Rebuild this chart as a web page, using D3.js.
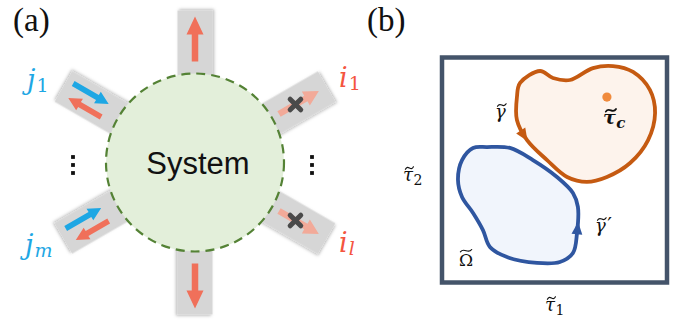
<!DOCTYPE html>
<html>
<head>
<meta charset="utf-8">
<script src="https://cdn.jsdelivr.net/npm/d3@7/dist/d3.min.js"></script>
<style>
  html, body { margin: 0; padding: 0; background: #ffffff; }
  svg { display: block; }
</style>
</head>
<body>
<svg id="fig" width="686" height="324"></svg>
<script>
// ---------- Panel (a): a system with ports on its boundary ----------
const portAngles = [90, 150, 210, -90, 30, -30];          // degrees, counter-clockwise from +x
const portKinds  = ["out", "exchange", "exchange", "out", "blocked", "blocked"];
const portNames  = ["", "j", "j", "", "i", "i"];
const portSubs   = ["", "1", "m", "", "1", "l"];
const systemLabel = "System";

// ---------- Panel (b): closed contours in the (τ̃1, τ̃2) plane ----------
const gammaU = [0.347, 0.436, 0.493, 0.569, 0.671, 0.760, 0.849, 0.924, 0.947, 0.916,
                0.836, 0.733, 0.644, 0.556, 0.467, 0.378, 0.333, 0.333];
const gammaV = [0.887, 0.940, 0.909, 0.900, 0.953, 0.962, 0.936, 0.856, 0.753, 0.633,
                0.531, 0.469, 0.447, 0.469, 0.544, 0.633, 0.722, 0.824];
const gammaPrimeU = [0.200, 0.302, 0.404, 0.511, 0.582, 0.604, 0.600, 0.582, 0.524, 0.422,
                     0.289, 0.213, 0.182, 0.138, 0.089, 0.071, 0.089, 0.138];
const gammaPrimeV = [0.602, 0.598, 0.544, 0.469, 0.398, 0.336, 0.220, 0.131, 0.091, 0.087,
                     0.113, 0.158, 0.233, 0.309, 0.380, 0.456, 0.544, 0.598];
const tauC = [0.733, 0.824];
const gammaArrowAt = [0.356, 0.647];
const gammaPrimeArrowAt = [0.600, 0.242];

const svg = d3.select("#fig");
const defs = svg.append("defs");
const shadow = defs.append("filter").attr("id", "shadow")
  .attr("x", "-20%").attr("y", "-20%").attr("width", "140%").attr("height", "140%");
shadow.append("feDropShadow").attr("dx", 1.2).attr("dy", 1.5)
  .attr("stdDeviation", 1.4).attr("flood-color", "#000").attr("flood-opacity", 0.28);

const serif = "'Liberation Serif', 'Times New Roman', serif";
const mathFont = "'DejaVu Serif', serif";
const sans = "'Liberation Sans', Arial, sans-serif";

// ---- panel labels ----
svg.append("text").attr("x", 13).attr("y", 31).text("(a)")
  .style("font-family", serif).style("font-size", "33px").attr("fill", "#111");
svg.append("text").attr("x", 367).attr("y", 31).text("(b)")
  .style("font-family", serif).style("font-size", "33px").attr("fill", "#111");

// ================= Panel (a) =================
const cx = 195, cy = 162.5, R = 89;
const ga = svg.append("g");

// arrow polygon pointing along +x (or -x) in a local frame
function arrowPoly(tail, tip, y, shaft, headLen, headW) {
  const s = Math.sign(tip - tail);
  const hb = tip - s * headLen;
  return [
    [tail, y - shaft / 2], [hb, y - shaft / 2], [hb, y - headW / 2], [tip, y],
    [hb, y + headW / 2], [hb, y + shaft / 2], [tail, y + shaft / 2]
  ];
}
const poly = d3.line();

const ports = portAngles.map((a, i) => ({
  angle: a, kind: portKinds[i], name: portNames[i], sub: portSubs[i]
}));

const pg = ga.selectAll("g.port").data(ports).join("g")
  .attr("class", "port")
  .attr("transform", d => `translate(${cx},${cy}) rotate(${-d.angle})`);

pg.append("rect")
  .attr("x", 78).attr("y", -17.5).attr("width", 74).attr("height", 35)
  .attr("fill", "#d6d6d6").attr("filter", "url(#shadow)");

// outgoing channel
pg.filter(d => d.kind === "out").append("path")
  .attr("d", poly(arrowPoly(101, 146, 0, 6.5, 18, 17)) + "Z")
  .attr("fill", "#f0705a");

// two-way channel: incoming (blue) and outgoing (red)
const ex = pg.filter(d => d.kind === "exchange");
ex.append("path")
  .attr("d", poly(arrowPoly(145, 104, 7.5, 5.5, 13, 13.5)) + "Z")
  .attr("fill", "#1ea7e4");
ex.append("path")
  .attr("d", poly(arrowPoly(104, 142, -7.5, 5.5, 13, 13.5)) + "Z")
  .attr("fill", "#f0705a");

// blocked channel: faded arrow crossed out
const bl = pg.filter(d => d.kind === "blocked");
bl.append("path")
  .attr("d", poly(arrowPoly(97, 143, 0, 6.5, 15, 16)) + "Z")
  .attr("fill", "#f2aa99");
bl.append("g")
  .attr("transform", d => `translate(116,0) rotate(${d.angle})`)
  .selectAll("line").data([45, -45]).join("line")
  .attr("x1", a => -7.5 * Math.cos(a * Math.PI / 180))
  .attr("y1", a => -7.5 * Math.sin(a * Math.PI / 180))
  .attr("x2", a => 7.5 * Math.cos(a * Math.PI / 180))
  .attr("y2", a => 7.5 * Math.sin(a * Math.PI / 180))
  .attr("stroke", "#4a4a4a").attr("stroke-width", 5).attr("stroke-linecap", "round");

// the system itself
ga.append("circle").attr("cx", cx).attr("cy", cy).attr("r", R)
  .attr("fill", "#e3efda").attr("stroke", "#548235")
  .attr("stroke-width", 2.2).attr("stroke-dasharray", "9,6");
ga.append("text").attr("x", cx + 3).attr("y", 173.5).attr("text-anchor", "middle")
  .text(systemLabel).style("font-family", sans).style("font-size", "31px").attr("fill", "#111");

// ellipsis markers between the port groups
[73, 312].forEach(px => {
  ga.selectAll(null).data([157, 165, 173]).join("rect")
    .attr("x", px - 1.9).attr("y", d => d - 1.9).attr("width", 3.8).attr("height", 3.8)
    .attr("fill", "#111");
});

// port labels
const labelPos = { "j1": [27, 89], "jm": [25, 254], "i1": [339, 87], "il": [339, 252] };
const labelColor = { j: "#1ea7e4", i: "#f4553f" };
ports.filter(d => d.name).forEach(d => {
  const [lx, ly] = labelPos[d.name + d.sub];
  const t = ga.append("text").attr("x", lx).attr("y", ly)
    .attr("fill", labelColor[d.name]).style("font-family", mathFont);
  t.append("tspan").text(d.name).style("font-style", "italic").style("font-size", "27px");
  t.append("tspan").text(d.sub).attr("dx", 1).attr("dy", 3)
    .style("font-style", d.sub === "1" ? "normal" : "italic")
    .style("font-size", "19px");
});

// ================= Panel (b) =================
const x = d3.scaleLinear().domain([0, 1]).range([442, 667]);
const y = d3.scaleLinear().domain([0, 1]).range([282.5, 57.5]);
const gb = svg.append("g");

gb.append("rect")
  .attr("x", x(0)).attr("y", y(1)).attr("width", x(1) - x(0)).attr("height", y(0) - y(1))
  .attr("fill", "#ffffff").attr("stroke", "#44546a").attr("stroke-width", 4.5);

const closed = d3.line().x(d => x(d[0])).y(d => y(d[1]))
  .curve(d3.curveCatmullRomClosed.alpha(0.5));

function contour(us, vs, stroke, fill, arrowAt) {
  const pts = us.map((u, i) => [u, vs[i]]);
  const p = gb.append("path").attr("d", closed(pts))
    .attr("fill", fill).attr("stroke", stroke).attr("stroke-width", 3.8)
    .attr("stroke-linejoin", "round");
  // arrowhead placed on the curve nearest to arrowAt, pointing against point order
  const node = p.node(), L = node.getTotalLength();
  const tx = x(arrowAt[0]), ty = y(arrowAt[1]);
  let best = 0, bestD = Infinity;
  for (let l = 0; l < L; l += 0.5) {
    const q = node.getPointAtLength(l);
    const dd = (q.x - tx) ** 2 + (q.y - ty) ** 2;
    if (dd < bestD) { bestD = dd; best = l; }
  }
  const a = node.getPointAtLength((best + 2) % L), b = node.getPointAtLength((best - 2 + L) % L);
  const ang = Math.atan2(b.y - a.y, b.x - a.x) * 180 / Math.PI;
  const c = node.getPointAtLength(best);
  gb.append("path")
    .attr("d", "M6.5,0 L-6,-5.4 L-6,5.4 Z")
    .attr("transform", `translate(${c.x},${c.y}) rotate(${ang})`)
    .attr("fill", stroke);
}
contour(gammaU, gammaV, "#c55a11", "#fdf3ec", gammaArrowAt);
contour(gammaPrimeU, gammaPrimeV, "#2f56a0", "#f1f5fc", gammaPrimeArrowAt);

gb.append("circle").attr("cx", x(tauC[0])).attr("cy", y(tauC[1])).attr("r", 4.6)
  .attr("fill", "#f08a3c");

// math labels: base glyph with a drawn tilde accent, optional prime and subscript
function mathLabel(px, py, glyph, sub, opts = {}) {
  const size = opts.size || 18;
  const g = gb.append("g");
  const t = g.append("text").attr("x", px).attr("y", py).attr("fill", "#111")
    .style("font-family", mathFont).style("font-size", size + "px");
  if (opts.bold) t.style("font-weight", "bold");
  t.append("tspan").text(glyph).style("font-style", opts.upright ? "normal" : "italic");
  const w = t.node().getComputedTextLength();
  if (opts.prime) t.append("tspan").text("\u2032").attr("dx", 1.5)
    .style("font-style", "normal").style("font-size", (size + 3) + "px");
  if (sub) {
    t.append("tspan").text(sub).attr("dx", 0.5).attr("dy", 4)
      .style("font-size", Math.round(size * 0.78) + "px")
      .style("font-style", sub === "c" ? "italic" : "normal");
  }
  // tilde accent
  const tw = opts.upright ? w * 0.8 : Math.max(w * 0.8, 8);
  const tcx = px + w / 2 + (opts.upright ? 0 : size * 0.08);
  const tcy = py - size * (opts.upright ? 0.9 : 0.72);
  const h = size * 0.07;
  g.append("path")
    .attr("d", `M${tcx - tw / 2},${tcy + h} C${tcx - tw / 6},${tcy - h * 3.2} ${tcx + tw / 6},${tcy + h * 3.2} ${tcx + tw / 2},${tcy - h}`)
    .attr("fill", "none").attr("stroke", "#111")
    .attr("stroke-width", opts.bold ? 1.8 : 1.2).attr("stroke-linecap", "round");
}
mathLabel(403, 181, "\u03C4", "2");
mathLabel(545, 311, "\u03C4", "1");
mathLabel(603, 124, "\u03C4", "c", { bold: true, size: 19 });
mathLabel(495, 118, "\u03B3", "");
mathLabel(595, 232, "\u03B3", "", { prime: true });
mathLabel(459, 266, "\u03A9", "", { upright: true, size: 17 });
</script>
</body>
</html>
